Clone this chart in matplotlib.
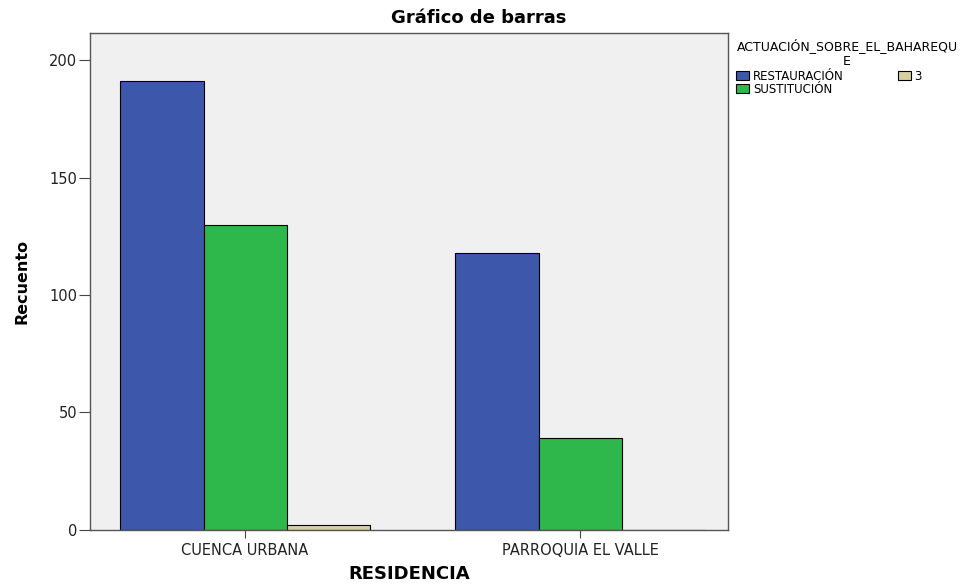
import matplotlib.pyplot as plt
import numpy as np

plt.rcParams['font.family'] = ['DejaVu Sans']

# Recuento por residencia y actuación
categorias = ['CUENCA URBANA', 'PARROQUIA EL VALLE']
series = ['RESTAURACIÓN', 'SUSTITUCIÓN', '3']
restauracion = [191, 118]
sustitucion = [130, 39]
tres = [2, 0]
valores = [restauracion, sustitucion, tres]
colores = ['#3D57AB', '#2EB84B', '#D6CF9F']

fig = plt.figure(figsize=(9.67, 5.84), dpi=100)
ax = fig.add_axes([0.093, 0.0925, 0.66, 0.851])
ax.set_facecolor('#F0F0F0')

x = np.arange(len(categorias))
w = 0.248
for i, (nombre, vals, c) in enumerate(zip(series, valores, colores)):
    ax.bar(x + (i - 1) * w, vals, width=w, color=c, edgecolor='black',
           linewidth=0.8, label=nombre)

ax.set_xlim(-0.463, 1.442)
ax.set_ylim(0, 211.5)
ax.set_yticks([0, 50, 100, 150, 200])
ax.set_xticks(x)
ax.set_xticklabels(categorias)
ax.tick_params(axis='y', labelsize=10.5, length=8, color='#444444', labelcolor='#222222', pad=1)
ax.tick_params(axis='x', labelsize=10.5, length=6, color='#444444', labelcolor='#222222')
for s in ax.spines.values():
    s.set_color('#555555')
    s.set_linewidth(1.0)

fig.text(479 / 967, 1 - 18 / 584, 'Gráfico de barras', fontsize=13, fontweight='bold',
         ha='center', va='center')
ax.set_ylabel('Recuento', fontsize=11.5, fontweight='bold', labelpad=14)
ax.set_xlabel('RESIDENCIA', fontsize=13, fontweight='bold', va='top')
ax.xaxis.set_label_coords(0.5, -0.07)

leg = ax.legend(title='ACTUACIÓN_SOBRE_EL_BAHAREQU\nE', ncol=2, fontsize=8.5,
                title_fontsize=9, loc='upper left', bbox_to_anchor=(1.0, 1.006),
                frameon=False, handlelength=1.1, handleheight=0.8,
                handletextpad=0.3, columnspacing=4.6, labelspacing=0.02,
                borderaxespad=0.3)
leg.get_title().set_multialignment('center')
leg._legend_box.sep = 1
leg._legend_box.align = 'left'

plt.savefig('out.png', dpi=100)
